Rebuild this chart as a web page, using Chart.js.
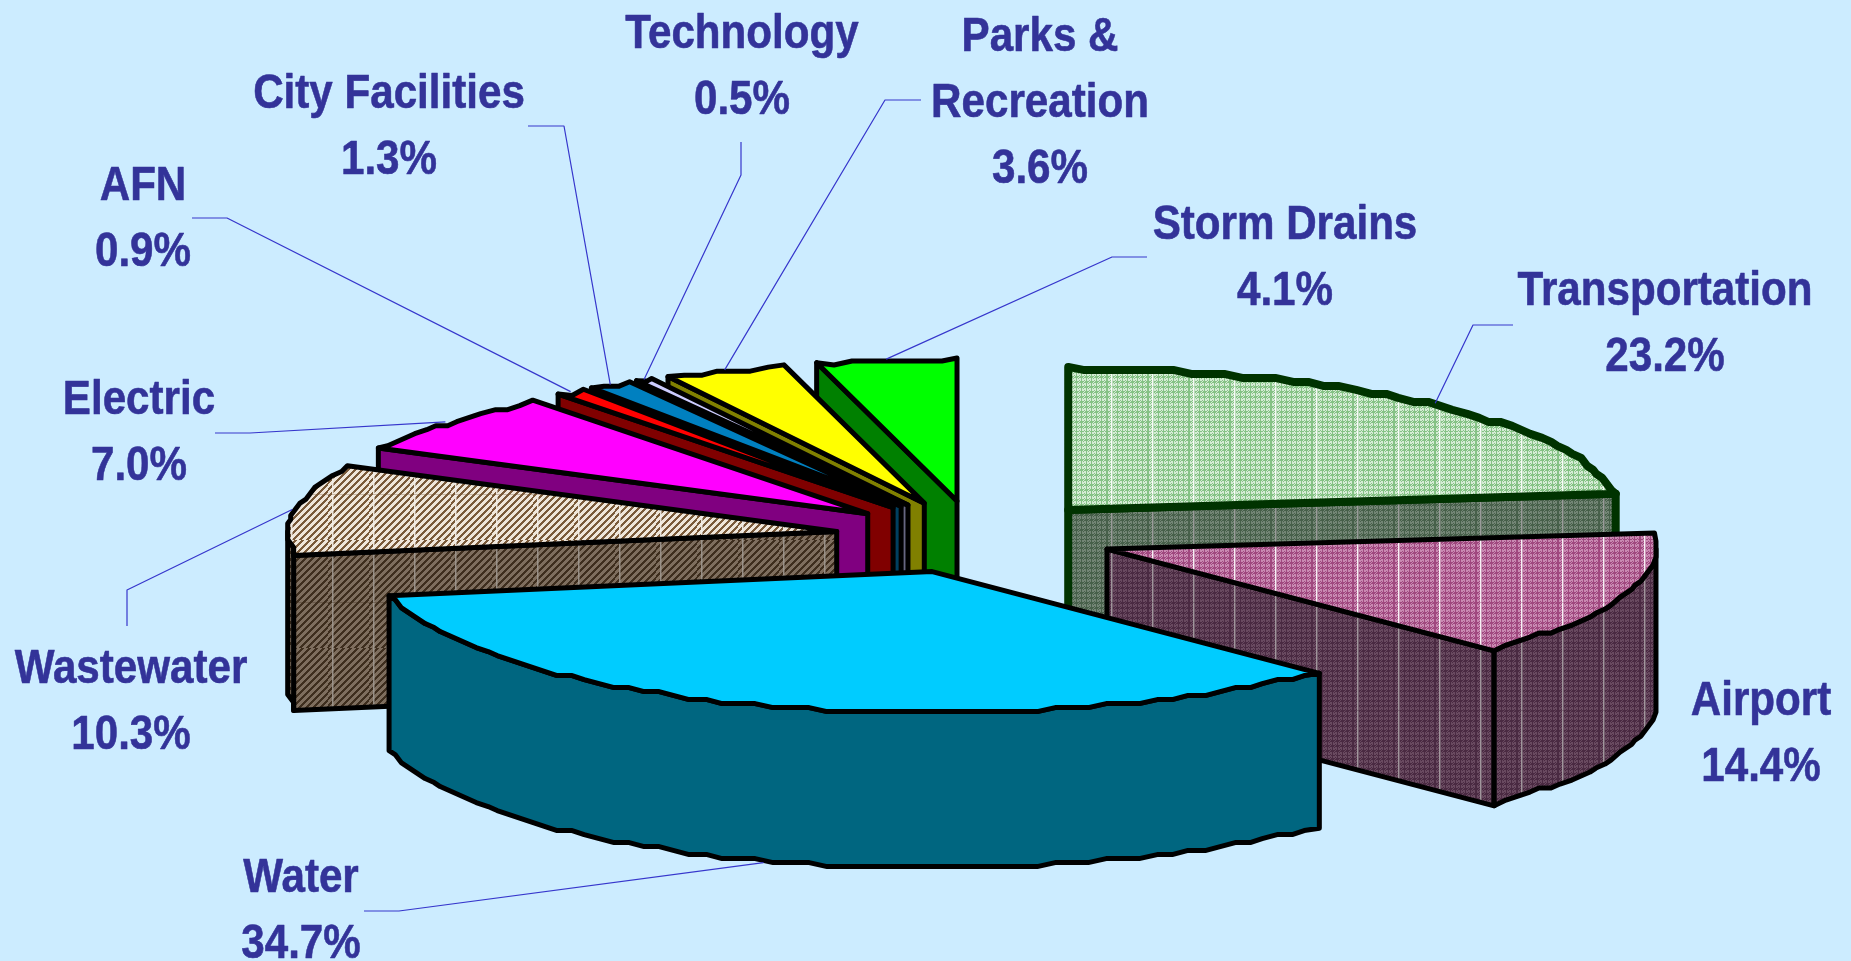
<!DOCTYPE html>
<html><head><meta charset="utf-8">
<style>html,body{margin:0;padding:0;background:#CCECFF;overflow:hidden}canvas{display:block}</style>
<script src="https://cdn.jsdelivr.net/npm/chart.js@4"></script>
</head><body>
<canvas id="c" width="1851" height="961"></canvas>
<script>
const categories = ['Transportation','Airport','Water','Wastewater','Electric','AFN','City Facilities','Technology','Parks & Recreation','Storm Drains'];
const shares = [23.2,14.4,34.7,10.3,7.0,0.9,1.3,0.5,3.6,4.1];
const topColors = ['#B0D8B0','#BE70A2','#00CCFF','#B49E86','#FF00FF','#FF0000','#0080C0','#CCCCFF','#FFFF00','#00FF00'];
const wallColors = ['#5E705E','#5E3A52','#006680','#6A5A4A','#800080','#800000','#004060','#666680','#808000','#008000'];
const edgeColors = ['#003300','#000000','#000000','#000000','#000000','#000000','#000000','#000000','#000000','#000000'];
const edgeWidths = [8,5,5,5,5,5,5,5,5,5];
const labelLines = {'Parks & Recreation':['Parks &','Recreation']};
const labelCentres = [[1665,291],[1761,701],[301,878],[131,669],[139,400],[143,186],[389,94],[742,34],[1040,37],[1285,225]];
const leaderElbows = [[[1513,325],[1473,325]],null,[[364,911],[399,911]],[[127,626],[127,590]],[[215,433],[250,433]],[[192,218],[227,218]],[[528,126],[564,126]],[[741,142],[741,175]],[[921,100],[885,100]],[[1147,257],[1112,257]]];

const view = {cx:975, cy:537, rx:551, ry:143, explode:0.254, depth:155, gridX:3, gridY:4};

function tile(a,b,line,kind){
  const t=document.createElement('canvas');t.width=41;t.height=108;
  const g=t.getContext('2d');
  for(let y=0;y<108;y++)for(let x=0;x<41;x++){
    const on=kind==='stripe'?((x+y)%7<3):((x*x*3+y*y*5+x*y)%5<2);
    g.fillStyle=on?a:b;g.fillRect(x,y,1,1);
  }
  g.globalAlpha=.9;g.fillStyle=line;g.fillRect(4,0,1.5,108);
  g.globalAlpha=.35;g.fillStyle=a;g.fillRect(0,62,41,1);
  return document.createElement('canvas').getContext('2d').createPattern(t,'repeat');
}
const topTextures={0:tile('#85C285','#D5EBD5','#FFFFFF'),1:tile('#A0487F','#C98AB2','#FFFFFF'),3:tile('#7A5A3A','#EFE6DA','#F4F0EA','stripe')};
const wallTextures={0:tile('#47604A','#738575','#A0A0A0'),1:tile('#4A2A42','#694A60','#A8A0A4'),3:tile('#3E2E1E','#7E6E5E','#A09890','stripe')};

function geometry(arc){
  const p=arc.getProps(['x','y','startAngle','endAngle','outerRadius'],true);
  const a=p.startAngle,b=p.endAngle,m=(a+b)/2;
  const ax=view.cx+view.rx*view.explode*Math.cos(m);
  const ay=view.cy+view.ry*view.explode*Math.sin(m);
  const inward=(v,s)=>(v>=0?Math.floor(v/s):Math.ceil(v/s))*s;
  const rim=[];
  const steps=Math.max(2,Math.ceil((b-a)*view.rx/18));
  for(let i=0;i<=steps;i++){
    const t=a+(b-a)*i/steps;
    let dx=view.rx*Math.cos(t),dy=view.ry*Math.sin(t);
    if(i>0&&i<steps){dx=inward(dx,view.gridX);dy=inward(dy,view.gridY);}
    rim.push({x:ax+dx,y:ay+dy,t});
  }
  return {p,a,b,m,ax,ay,rim};
}
function polygon(ctx,pts){ctx.beginPath();pts.forEach((q,i)=>i?ctx.lineTo(q.x,q.y):ctx.moveTo(q.x,q.y));ctx.closePath();}
function paintFace(ctx,pts,i,fill,tex){
  ctx.save();polygon(ctx,pts);ctx.fillStyle=fill;ctx.fill();
  if(tex){ctx.fillStyle=tex;ctx.fill();}
  ctx.restore();
  polygon(ctx,pts);ctx.lineJoin='round';ctx.strokeStyle=edgeColors[i];ctx.lineWidth=edgeWidths[i];ctx.stroke();
}

const pie3d={
  id:'pie3d',
  beforeDatasetDraw(){return false;},
  afterDatasetsDraw(chart){
    const ctx=chart.ctx,arcs=chart.getDatasetMeta(0).data;
    const d=view.depth;
    const order=arcs.map((arc,i)=>({arc,i,g:geometry(arc)})).sort((u,v)=>Math.sin(u.g.m)-Math.sin(v.g.m));
    order.forEach(({arc,i,g})=>{
      const first=g.rim[0],last=g.rim[g.rim.length-1];
      const apex={x:g.ax,y:g.ay};
      const down=q=>({x:q.x,y:q.y+d});
      if(Math.cos(g.a)<-1e-6)paintFace(ctx,[apex,first,down(first),down(apex)],i,wallColors[i],wallTextures[i]);
      if(Math.cos(g.b)>1e-6)paintFace(ctx,[apex,last,down(last),down(apex)],i,wallColors[i],wallTextures[i]);
      const front=g.rim.filter(q=>Math.sin(q.t)>0);
      if(front.length>1)paintFace(ctx,front.concat(front.slice().reverse().map(down)),i,wallColors[i],wallTextures[i]);
      const top=[apex].concat(g.rim);
      ctx.save();
      polygon(ctx,top);ctx.clip();
      ctx.save();
      ctx.translate(g.ax,g.ay);
      ctx.scale(view.rx/g.p.outerRadius,view.ry/g.p.outerRadius);
      ctx.translate(-g.p.x,-g.p.y);
      arc.draw(ctx);
      ctx.restore();
      if(topTextures[i]){polygon(ctx,top);ctx.fillStyle=topTextures[i];ctx.fill();}
      ctx.restore();
      polygon(ctx,top);ctx.lineJoin='round';ctx.strokeStyle=edgeColors[i];ctx.lineWidth=edgeWidths[i];ctx.stroke();
    });
    order.forEach(({i,g})=>{
      const e=leaderElbows[i];if(!e)return;
      const s=Math.sin(g.m);
      const ex=g.ax+view.rx*Math.cos(g.m),ey=g.ay+view.ry*s+(s>0?d:0);
      ctx.beginPath();ctx.moveTo(e[0][0],e[0][1]);ctx.lineTo(e[1][0],e[1][1]);ctx.lineTo(ex,ey);
      ctx.strokeStyle='#3636CC';ctx.lineWidth=1.2;ctx.stroke();
    });
    ctx.fillStyle='#333399';ctx.textAlign='center';ctx.textBaseline='middle';
    ctx.font='bold 49px "Liberation Sans", Arial, sans-serif';
    categories.forEach((name,i)=>{
      const lines=(labelLines[name]||[name]).concat(shares[i].toFixed(1)+'%');
      lines.forEach((txt,k)=>{
        ctx.save();ctx.translate(labelCentres[i][0],labelCentres[i][1]+k*66);ctx.scale(.86,1);
        ctx.lineWidth=.6;ctx.strokeStyle='#333399';
        ctx.fillText(txt,0,0);ctx.strokeText(txt,0,0);ctx.restore();
      });
    });
  }
};

new Chart(document.getElementById('c'),{
  type:'pie',
  data:{labels:categories,datasets:[{data:shares,backgroundColor:topColors,borderWidth:0,hoverOffset:0}]},
  options:{responsive:false,animation:false,devicePixelRatio:1,events:[],rotation:0,
    plugins:{legend:{display:false},tooltip:{enabled:false}}},
  plugins:[pie3d]
});
</script>
</body></html>
